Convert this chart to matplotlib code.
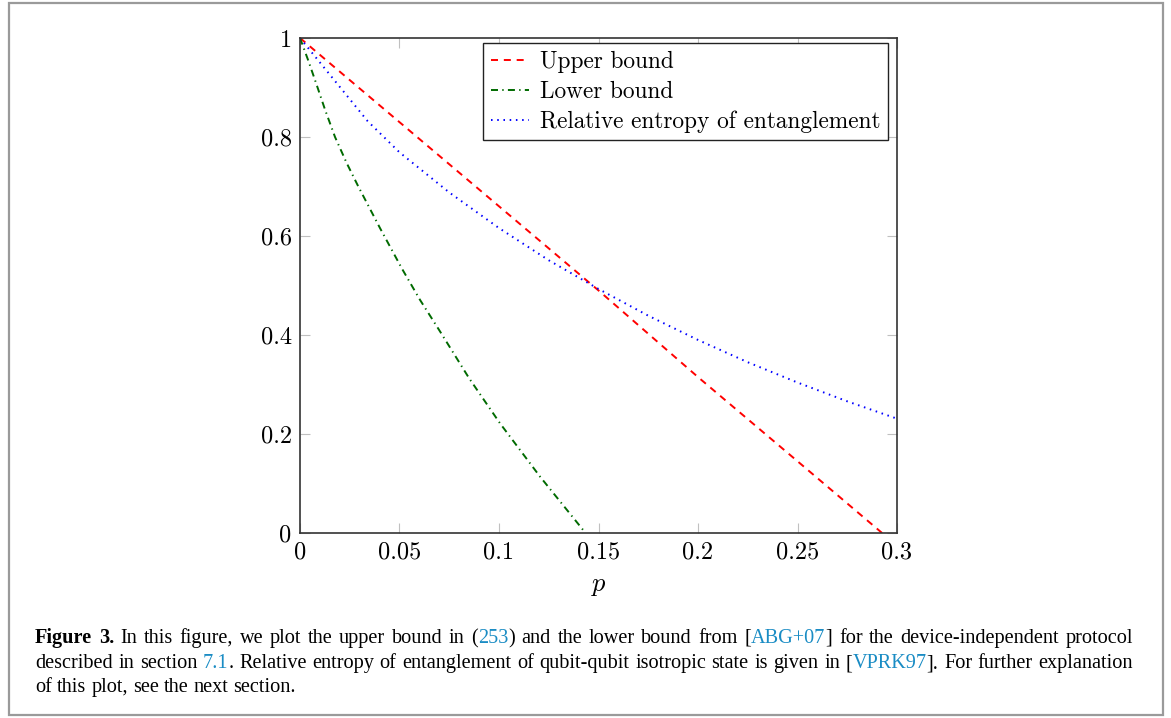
import matplotlib
matplotlib.use('Agg')
import matplotlib.pyplot as plt
from matplotlib.patches import Rectangle

# --- data ---
p_upper = [0, 0.05, 0.1, 0.15, 0.2, 0.25, 0.2925]
upper = [1, 0.83, 0.66, 0.49, 0.315, 0.145, 0]

p_lower = [0, 0.0042, 0.0084, 0.0126, 0.0176, 0.0235, 0.0293, 0.0402, 0.0511,
           0.0603, 0.0704, 0.085, 0.1005, 0.1206, 0.1435]
lower = [1, 0.954, 0.905, 0.855, 0.80, 0.747, 0.70, 0.616, 0.535,
         0.471, 0.407, 0.3125, 0.2216, 0.114, 0]

p_rel = [0, 0.034, 0.05, 0.075, 0.1, 0.125, 0.15, 0.175, 0.2, 0.225, 0.25, 0.275, 0.3]
rel = [1, 0.832, 0.769, 0.688, 0.616, 0.551, 0.493, 0.439, 0.390, 0.345, 0.304, 0.266, 0.231]

x_ticks = [0, 0.05, 0.1, 0.15, 0.2, 0.25, 0.3]
x_labels = ['0', '0.05', '0.1', '0.15', '0.2', '0.25', '0.3']
y_ticks = [0, 0.2, 0.4, 0.6, 0.8, 1]
y_labels = ['0', '0.2', '0.4', '0.6', '0.8', '1']

series_names = ['Upper bound', 'Lower bound', 'Relative entropy of entanglement']

LINK = '#1a8cc4'
caption_lines = [
    [[('Figure', 'k', 'bold')], [('3.', 'k', 'bold')], [('In', 'k', 'normal')], [('this', 'k', 'normal')],
     [('figure,', 'k', 'normal')], [('we', 'k', 'normal')], [('plot', 'k', 'normal')], [('the', 'k', 'normal')],
     [('upper', 'k', 'normal')], [('bound', 'k', 'normal')], [('in', 'k', 'normal')],
     [('(', 'k', 'normal'), ('253', LINK, 'normal'), (')', 'k', 'normal')],
     [('and', 'k', 'normal')], [('the', 'k', 'normal')], [('lower', 'k', 'normal')], [('bound', 'k', 'normal')],
     [('from', 'k', 'normal')], [('[', 'k', 'normal'), ('ABG+07', LINK, 'normal'), (']', 'k', 'normal')],
     [('for', 'k', 'normal')], [('the', 'k', 'normal')], [('device-independent', 'k', 'normal')],
     [('protocol', 'k', 'normal')]],
    [[('described', 'k', 'normal')], [('in', 'k', 'normal')], [('section', 'k', 'normal')],
     [('7.1', LINK, 'normal'), ('.', 'k', 'normal')], [('Relative', 'k', 'normal')], [('entropy', 'k', 'normal')],
     [('of', 'k', 'normal')], [('entanglement', 'k', 'normal')], [('of', 'k', 'normal')],
     [('qubit-qubit', 'k', 'normal')], [('isotropic', 'k', 'normal')], [('state', 'k', 'normal')],
     [('is', 'k', 'normal')], [('given', 'k', 'normal')], [('in', 'k', 'normal')],
     [('[', 'k', 'normal'), ('VPRK97', LINK, 'normal'), ('].', 'k', 'normal')],
     [('For', 'k', 'normal')], [('further', 'k', 'normal')], [('explanation', 'k', 'normal')]],
    [[('of', 'k', 'normal')], [('this', 'k', 'normal')], [('plot,', 'k', 'normal')], [('see', 'k', 'normal')],
     [('the', 'k', 'normal')], [('next', 'k', 'normal')], [('section.', 'k', 'normal')]],
]

W, H = 1171, 718
plt.rcParams['mathtext.fontset'] = 'cm'
fig = plt.figure(figsize=(W / 100, H / 100), dpi=100)
fig.patch.set_facecolor('white')

# outer frame
fig.add_artist(Rectangle((9 / W, 1 - 715 / H), 1154 / W, 712 / H, transform=fig.transFigure,
                         fill=False, edgecolor='#9a9a9a', lw=1.6))

ax = fig.add_axes([300 / W, 1 - 533 / H, 597 / W, 495 / H])
ax.plot(p_upper, upper, color='red', lw=1.4, dashes=(3.6, 3.0), label=series_names[0])
ax.plot(p_lower, lower, color='#006a00', lw=1.4, dashes=(3.6, 2.2, 0.7, 2.2), label=series_names[1])
ax.plot(p_rel, rel, color='blue', lw=1.4, dashes=(0.8, 2.4), label=series_names[2])

ax.set_xlim(0, 0.3)
ax.set_ylim(0, 1)
ax.set_xticks(x_ticks)
ax.set_xticklabels(x_labels, fontfamily='cmr10', fontsize=17.5)
ax.set_yticks(y_ticks)
ax.set_yticklabels(y_labels, fontfamily='cmr10', fontsize=17.5)
ax.tick_params(direction='in', length=7, width=0.8, color='#c0c0c0', top=True, right=True)
ax.tick_params(axis='x', pad=6)
ax.tick_params(axis='y', pad=6)
for s in ax.spines.values():
    s.set_color('#333333')
    s.set_linewidth(1.2)
ax.set_xlabel('$p$', fontsize=19, labelpad=6)

leg = ax.legend(loc='upper right', bbox_to_anchor=(0.9844, 0.9893), borderaxespad=0,
                prop={'family': 'cmr10', 'size': 16.8}, fancybox=False, framealpha=1,
                edgecolor='#222222', handlelength=1.65, handletextpad=0.45,
                labelspacing=0.33, borderpad=0.32)
leg.get_frame().set_linewidth(1.0)

# caption, justified like the source page
renderer = fig.canvas.get_renderer()
cap_size = 14.6
left_px, right_px = 35, 1133
baselines = [643, 668, 692]


def word_width(word):
    total = 0
    for txt, col, wt in word:
        t = fig.text(0, 0, txt, fontsize=cap_size, fontfamily='Liberation Serif', fontweight=wt)
        total += t.get_window_extent(renderer).width
        t.remove()
    return total


for i, line in enumerate(caption_lines):
    widths = [word_width(w) for w in line]
    if i < len(caption_lines) - 1:
        gap = (right_px - left_px - sum(widths)) / (len(line) - 1)
    else:
        gap = cap_size * 100 / 72 * 0.25
    x = left_px
    y = 1 - baselines[i] / H
    for w, wd in zip(line, widths):
        xx = x
        for txt, col, wt in w:
            t = fig.text(xx / W, y, txt, fontsize=cap_size, fontfamily='Liberation Serif',
                         fontweight=wt, color=col, va='baseline', ha='left')
            xx += t.get_window_extent(renderer).width
        x += wd + gap

fig.savefig('out.png', dpi=100, facecolor='white')
